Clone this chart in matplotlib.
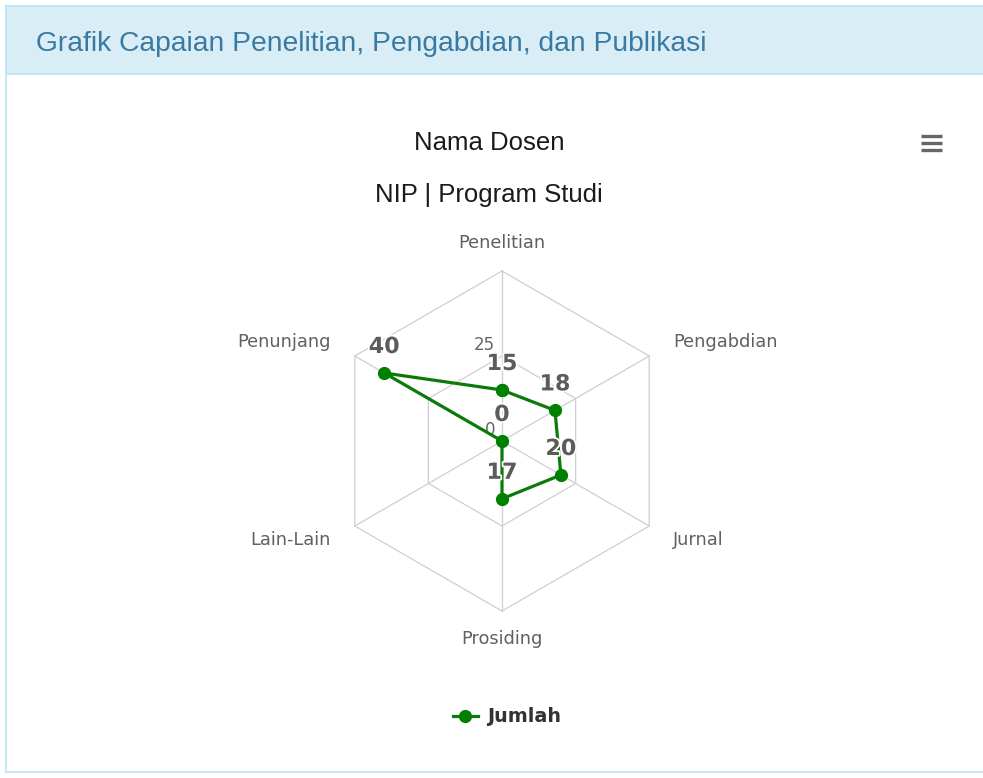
import matplotlib
matplotlib.use("Agg")
import matplotlib.pyplot as plt
import matplotlib.patheffects as pe
import numpy as np
from matplotlib.lines import Line2D
from matplotlib.patches import Rectangle

# Data grafik
kategori = ["Penelitian", "Pengabdian", "Jurnal", "Prosiding", "Lain-Lain", "Penunjang"]
jumlah = [15, 18, 20, 17, 0, 40]
ring_ticks = [0, 25, 50]
nama_seri = "Jumlah"
judul_panel = "Grafik Capaian Penelitian, Pengabdian, dan Publikasi"
judul = "Nama Dosen"
sub_judul = "NIP | Program Studi"

W, H = 983, 778
fig = plt.figure(figsize=(W / 100, H / 100), dpi=100)
fig.patch.set_facecolor("white")


def fx(px):
    return px / W


def fy(py):
    return 1 - py / H


# Panel dan header
fig.add_artist(Rectangle((fx(6), fy(772)), (990 - 6) / W, (772 - 6) / H,
                         transform=fig.transFigure, facecolor="white",
                         edgecolor="#bce8f1", lw=1.2, zorder=0))
fig.add_artist(Rectangle((fx(6), fy(74)), (990 - 6) / W, (74 - 6) / H,
                         transform=fig.transFigure, facecolor="#d9edf7",
                         edgecolor="#bce8f1", lw=1.2, zorder=0))
fig.text(fx(36), fy(51), judul_panel, fontsize=20.3, color="#3b7aa0",
         family=["Liberation Sans", "DejaVu Sans"], va="baseline")

# Judul chart
fig.text(fx(489), fy(143), judul, fontsize=18.5, color="#1a1a1a",
         family=["Liberation Sans", "DejaVu Sans"], ha="center", va="center")
fig.text(fx(489), fy(195), sub_judul, fontsize=18.5, color="#1a1a1a",
         family=["Liberation Sans", "DejaVu Sans"], ha="center", va="center")

# Ikon menu
for yy in (136, 143, 150):
    fig.add_artist(Line2D([fx(921), fx(942)], [fy(yy), fy(yy)],
                          transform=fig.transFigure, color="#666666", lw=2.4,
                          solid_capstyle="butt"))

# Sumbu polar
cx, cy, R = 502, 441, 170
ax = fig.add_axes([fx(cx - R), fy(cy + R), 2 * R / W, 2 * R / H],
                  projection="polar")
ax.set_theta_zero_location("N")
ax.set_theta_direction(-1)
ax.set_ylim(0, ring_ticks[-1])
ax.set_axis_off()

n = len(kategori)
angles = np.arange(n) * 2 * np.pi / n
th_closed = np.append(angles, angles[0])

# Grid heksagon
for r in ring_ticks[1:]:
    ax.plot(th_closed, [r] * (n + 1), color="#cfcfcf", lw=0.9, zorder=1,
            clip_on=False)
for a in angles:
    ax.plot([a, a], [0, ring_ticks[-1]], color="#cfcfcf", lw=0.9, zorder=1,
            clip_on=False)

# Seri data
vals = jumlah + [jumlah[0]]
line, = ax.plot(th_closed, vals, color="#0b7a0b", lw=2.3, marker="o", ms=8.5,
                mfc="#008000", mec="#008000", zorder=3, clip_on=False)

# Label sumbu Y
for r in ring_ticks[:-1]:
    ax.annotate(str(r), (0, r), xytext=(-7, 11), textcoords="offset pixels",
                ha="right", va="center", fontsize=12, color="#666666",
                annotation_clip=False, zorder=2)

# Label data
for a, v in zip(angles, jumlah):
    ax.annotate(str(v), (a, v), xytext=(0, 26), textcoords="offset pixels",
                ha="center", va="center", fontsize=16, fontweight="bold",
                color="#5c5c5c", annotation_clip=False, zorder=5,
                path_effects=[pe.withStroke(linewidth=2.5, foreground="white")])

# Label kategori
for a, lab in zip(angles, kategori):
    s, c = np.sin(a), np.cos(a)
    if s > 0.1:
        ha, dx = "left", 24
    elif s < -0.1:
        ha, dx = "right", -24
    else:
        ha, dx = "center", 0
    ax.annotate(lab, (a, ring_ticks[-1]), xytext=(dx, 28 * c),
                textcoords="offset pixels", ha=ha, va="center",
                fontsize=12.8, color="#606060", annotation_clip=False)

# Legenda
fig.legend(handles=[line], labels=[nama_seri], loc="center",
           bbox_to_anchor=(fx(507), fy(717)), frameon=False,
           prop={"weight": "bold", "size": 13.8, "family": "DejaVu Sans"},
           labelcolor="#333333", handlelength=1.3, handletextpad=0.5,
           numpoints=1)

fig.savefig("out.png", dpi=100)
